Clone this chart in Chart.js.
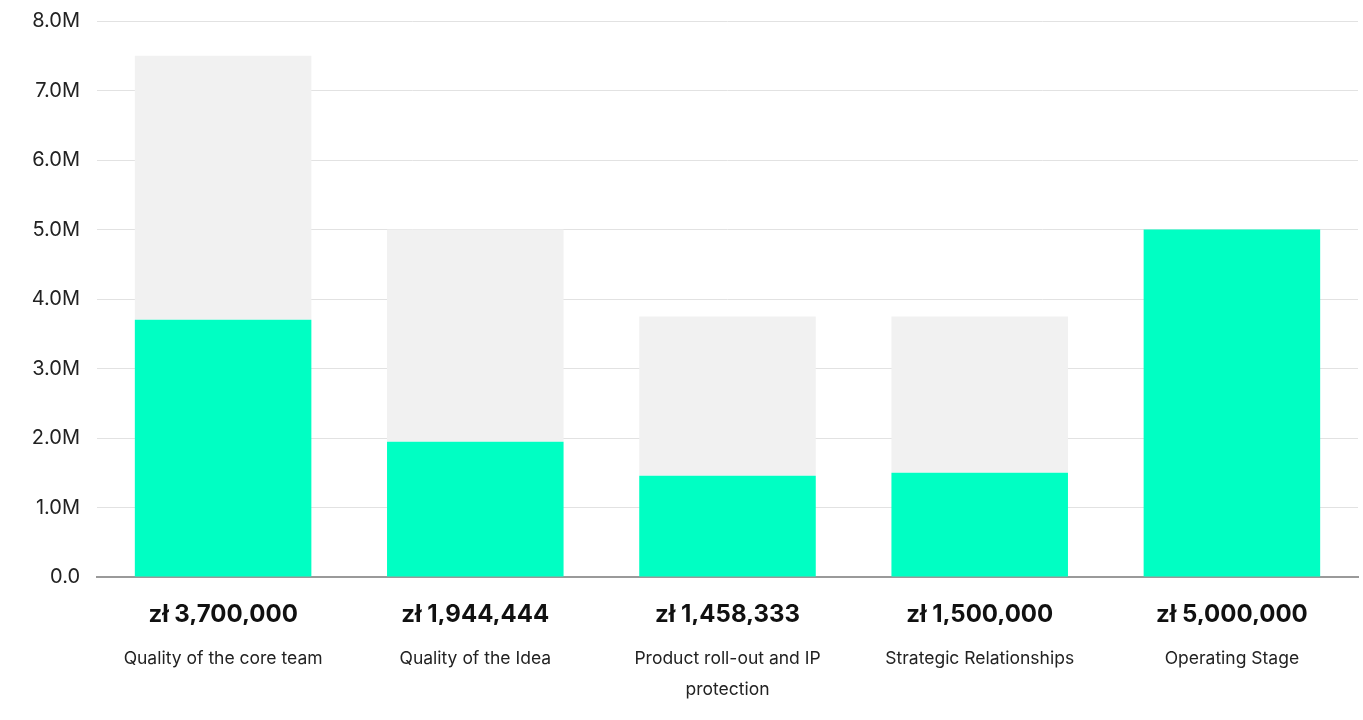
<!DOCTYPE html>
<html>
<head>
<meta charset="utf-8">
<script src="https://cdn.jsdelivr.net/npm/chart.js@4"></script>
<style>
  html, body { margin: 0; padding: 0; background: #fff; }
  #wrap { width: 1363px; height: 720px; position: relative; }
</style>
</head>
<body>
<div id="wrap"><canvas id="grafica"></canvas></div>
<script>
// datos
const NOMBRES = [
  "Quality of the core team",
  "Quality of the Idea",
  ["Product roll-out and IP", "protection"],
  "Strategic Relationships",
  "Operating Stage"
]
const VALORES = [3700000, 1944444, 1458333, 1500000, 5000000]
const MAXIMOS = [7500000, 5000000, 3750000, 3750000, 5000000]
const TICKS_Y = [0, 1000000, 2000000, 3000000, 4000000, 5000000, 6000000, 7000000, 8000000]

const VERDE = '#00ffc3'
const GRIS = '#f1f1f1'
const FUENTE = 'Inter, "Open Sans", sans-serif'

const montos = VALORES.map(v => 'zł ' + v.toLocaleString('en-US'))
const restantes = MAXIMOS.map((m, i) => Math.max(m - VALORES[i], 0))

const ctx = document.getElementById('grafica').getContext('2d')

new Chart(ctx, {
  type: 'bar',
  data: {
    labels: montos,
    datasets: [
      { label: 'Valor', data: VALORES, backgroundColor: VERDE, barPercentage: 0.7, categoryPercentage: 1 },
      { label: 'Restante', data: restantes, backgroundColor: GRIS, barPercentage: 0.7, categoryPercentage: 1 }
    ]
  },
  options: {
    responsive: true,
    maintainAspectRatio: false,
    animation: false,
    layout: { padding: { top: 21, right: 5, bottom: 0, left: 0 } },
    plugins: { legend: { display: false }, tooltip: { enabled: false } },
    scales: {
      x: {
        stacked: true,
        afterFit(scale) { scale.height = 48 },
        grid: { display: false, drawTicks: false },
        border: { display: true, color: '#9a9a9a', width: 2 },
        ticks: { padding: 23.5, color: '#111', font: { family: FUENTE, size: 24, weight: 'bold', lineHeight: 1.2 } }
      },
      x2: {
        type: 'category',
        position: 'bottom',
        labels: NOMBRES,
        afterFit(scale) { scale.height = 95 },
        grid: { display: false, drawTicks: false },
        border: { display: false },
        ticks: { padding: 18.5, color: '#222', font: { family: FUENTE, size: 17.5, lineHeight: 1.75 } }
      },
      y: {
        stacked: true,
        min: 0,
        max: 8000000,
        afterFit(scale) {
          scale.width = 97
          scale.paddingTop = 0
          scale.paddingBottom = 0
        },
        afterBuildTicks(scale) { scale.ticks = TICKS_Y.map(v => ({ value: v })) },
        grid: { color: '#e2e2e2', drawTicks: false },
        border: { display: false },
        ticks: {
          padding: 17,
          color: '#222',
          font: { family: FUENTE, size: 20 },
          callback: v => v === 0 ? '0.0' : (v / 1000000).toFixed(1) + 'M'
        }
      }
    }
  }
})
</script>
</body>
</html>
